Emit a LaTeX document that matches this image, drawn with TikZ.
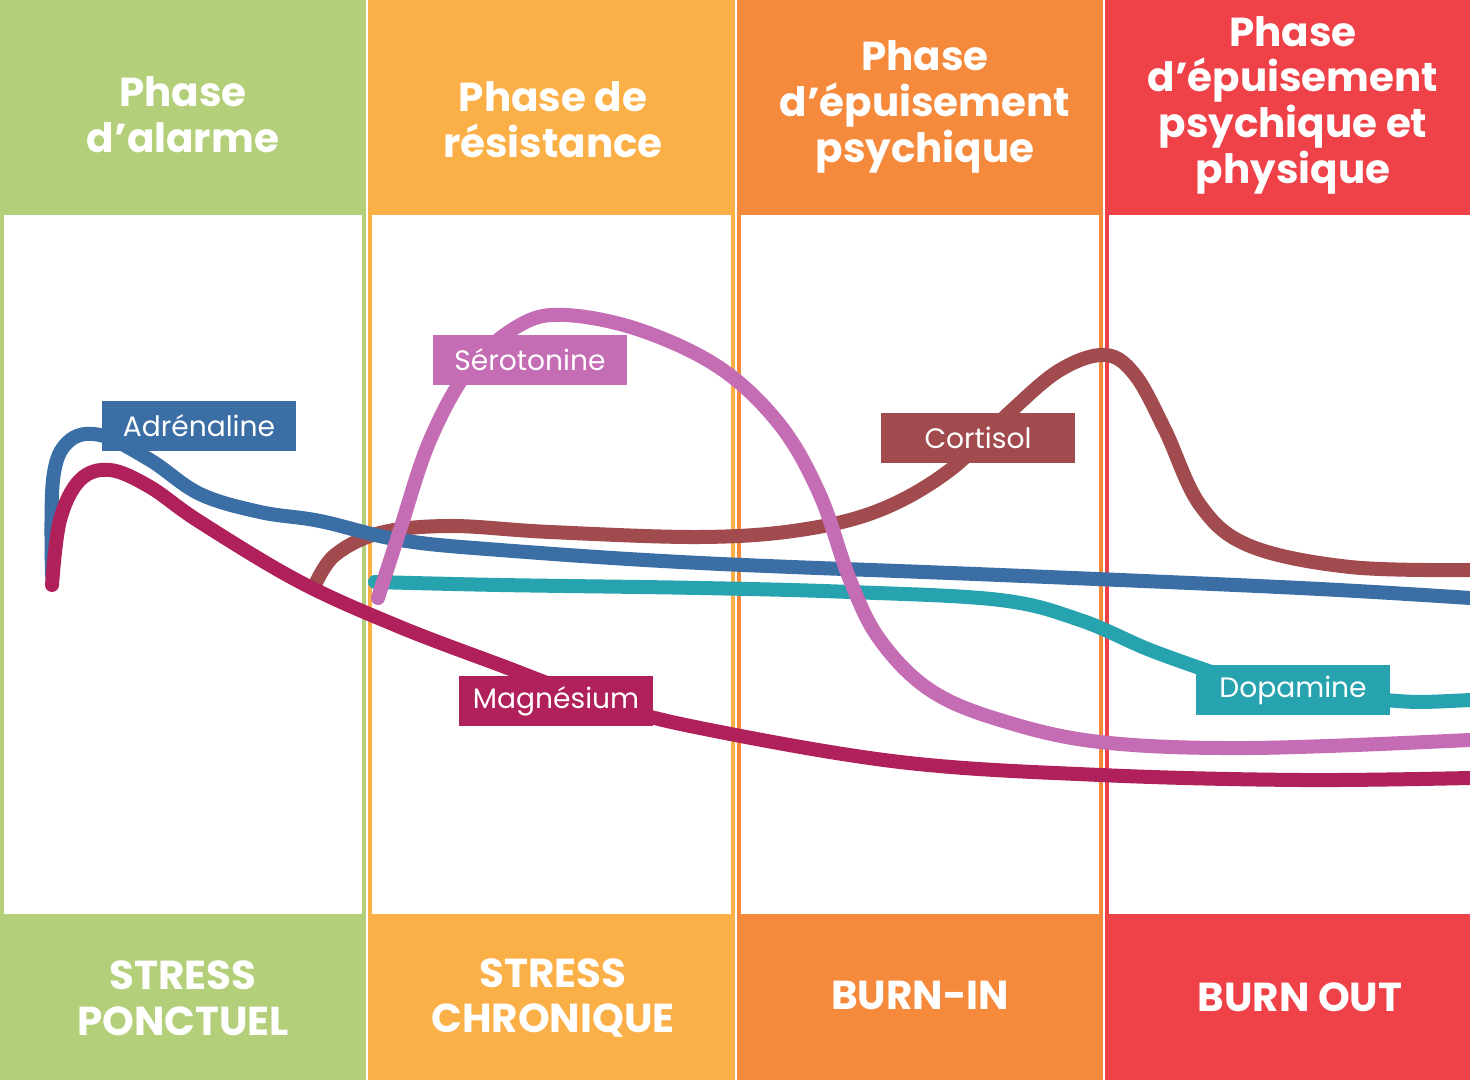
\documentclass[tikz,border=0pt]{standalone}
\usepackage{fontspec}
\setmainfont{Poppins}
\usetikzlibrary{positioning}
\definecolor{cgreen}{HTML}{B3CF7A}
\definecolor{corange}{HTML}{FBAF47}
\definecolor{cdark}{HTML}{F58A3C}
\definecolor{cred}{HTML}{EE4148}
\definecolor{cadre}{HTML}{3A6EA5}
\definecolor{cmagn}{HTML}{B0205A}
\definecolor{csero}{HTML}{C46DB5}
\definecolor{ccort}{HTML}{A24B4F}
\definecolor{cdopa}{HTML}{27A3AF}
\tikzset{
  phase/.style={text=white, font=\bfseries\fontsize{11.5pt}{13pt}\selectfont, align=center},
  hormone/.style={fill=#1, text=white, font=\fontsize{8pt}{9pt}\selectfont, minimum width=1.94cm, minimum height=0.5cm, inner sep=0pt},
  curve/.style={draw=#1, line width=1.4mm, line cap=round, smooth, tension=0.6}
}
\begin{document}
\begin{tikzpicture}[x=0.01cm,y=-0.01cm]
    \useasboundingbox (0,0) rectangle (1470,1080);
    % columns
    \fill[cgreen] (0,0) rectangle (366,1080);
    \fill[corange] (368,0) rectangle (735,1080);
    \fill[cdark] (737,0) rectangle (1103,1080);
    \fill[cred] (1105,0) rectangle (1470,1080);
    \fill[white] (4,215) rectangle (362,914);
    \fill[white] (372,215) rectangle (731,914);
    \fill[white] (741,215) rectangle (1099,914);
    \fill[white] (1109,215) rectangle (1470,914);

    \node[phase] (h1) at (183,115) {Phase\\d’alarme};
    \node[phase] (h2) at (553,120) {Phase de\\résistance};
    \node[phase] (h3) at (925,107) {Phase\\d’épuisement\\psychique};
    \node[phase] (h4) at (1293,105) {Phase\\d’épuisement\\psychique et\\physique};
    \node[phase] (f1) at (183,998) {STRESS\\PONCTUEL};
    \node[phase] (f2) at (553,998) {STRESS\\CHRONIQUE};
    \node[phase] (f3) at (920,995) {BURN-IN};
    \node[phase] (f4) at (1300,997) {BURN OUT};

    % curves
    \draw[curve=cdopa] plot coordinates {(375,582) (500,585) (700,588) (850,592) (1000,600) (1080,620) (1150,650) (1220,675)};
    \draw[curve=cdopa] plot coordinates {(1385,700) (1420,702) (1470,700)};
    \draw[curve=ccort] plot coordinates {(315,585) (335,555) (380,533) (450,526) (550,532) (700,537) (800,530) (880,510) (950,470) (1010,412) (1060,370) (1105,355) (1135,375) (1165,430) (1200,505) (1250,546) (1350,567) (1470,570)};
    \draw[curve=cadre] plot coordinates {(52,575) (53,480) (68,442) (100,435) (150,460) (200,494) (260,512) (320,521) (400,540) (500,550) (700,563) (1000,575) (1300,588) (1470,598)};
    \draw[curve=cmagn] plot coordinates {(52,585) (60,520) (80,480) (110,470) (150,487) (200,522) (300,582) (400,627) (500,665) (600,702) (700,728) (900,762) (1100,775) (1300,780) (1470,778)};
    \draw[curve=csero] plot coordinates {(378,598) (400,530) (430,440) (470,368) (520,325) (565,315) (640,330) (720,368) (780,425) (820,495) (850,580) (880,640) (930,690) (1000,720) (1100,742) (1250,748) (1470,740)};

    % labels
    \node[hormone=cadre] (adre) at (199,426) {Adrénaline};
    \node[hormone=csero] (sero) at (530,360) {Sérotonine};
    \node[hormone=ccort] (cort) at (978,438) {Cortisol};
    \node[hormone=cmagn] (magn) at (556,701) {Magnésium};
    \node[hormone=cdopa] (dopa) at (1293,690) {Dopamine};
\end{tikzpicture}
\end{document}
